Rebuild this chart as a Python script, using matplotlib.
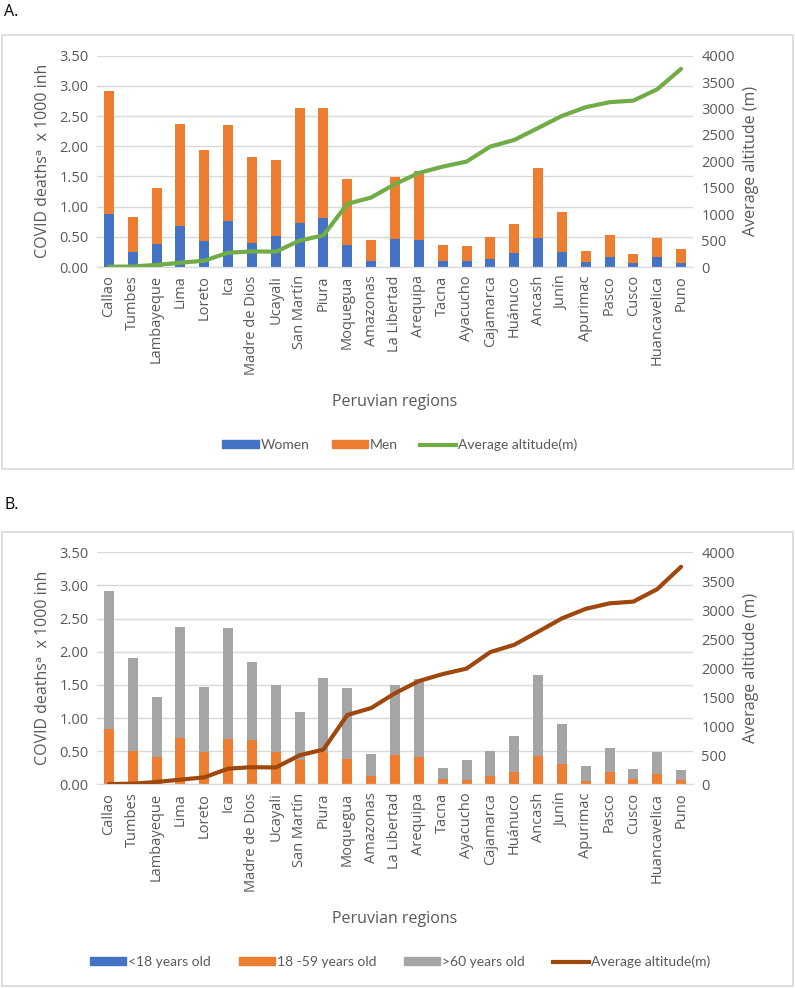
import matplotlib
matplotlib.use("Agg")
import matplotlib.pyplot as plt
from matplotlib.patches import Rectangle, Patch
from matplotlib.lines import Line2D

regions = ["Callao", "Tumbes", "Lambayeque", "Lima", "Loreto", "Ica", "Madre de Dios",
           "Ucayali", "San Martín", "Piura", "Moquegua", "Amazonas", "La Libertad",
           "Arequipa", "Tacna", "Ayacucho", "Cajamarca", "Huánuco", "Ancash", "Junín",
           "Apurimac", "Pasco", "Cusco", "Huancavelica", "Puno"]

altitude = [5, 10, 40, 80, 120, 270, 295, 290, 500, 600, 1195, 1315, 1570, 1780, 1900,
            1995, 2280, 2405, 2630, 2860, 3025, 3120, 3150, 3365, 3750]

# Panel A: totals by sex
women = [0.87, 0.25, 0.38, 0.68, 0.43, 0.77, 0.40, 0.51, 0.73, 0.81, 0.36, 0.10, 0.46,
         0.45, 0.10, 0.10, 0.13, 0.23, 0.48, 0.25, 0.09, 0.17, 0.06, 0.17, 0.07]
total_a = [2.92, 0.82, 1.31, 2.37, 1.93, 2.35, 1.83, 1.78, 2.63, 2.64, 1.45, 0.44, 1.49,
           1.59, 0.36, 0.35, 0.49, 0.72, 1.64, 0.91, 0.26, 0.53, 0.22, 0.48, 0.30]
men = [round(t - w, 2) for t, w in zip(total_a, women)]

# Panel B: by age group
under18 = [0.0] * 25
adults = [0.84, 0.50, 0.41, 0.70, 0.49, 0.69, 0.67, 0.49, 0.36, 0.48, 0.38, 0.13, 0.44,
          0.41, 0.085, 0.065, 0.13, 0.18, 0.43, 0.31, 0.05, 0.18, 0.075, 0.15, 0.07]
total_b = [2.92, 1.90, 1.32, 2.37, 1.47, 2.36, 1.84, 1.50, 1.09, 1.60, 1.46, 0.46, 1.50,
           1.59, 0.25, 0.36, 0.50, 0.73, 1.65, 0.91, 0.28, 0.55, 0.23, 0.49, 0.22]
over60 = [round(t - a - u, 3) for t, a, u in zip(total_b, adults, under18)]

yticks = [0.0, 0.5, 1.0, 1.5, 2.0, 2.5, 3.0, 3.5]
y2ticks = [0, 500, 1000, 1500, 2000, 2500, 3000, 3500, 4000]

BLUE, ORANGE, GRAY = "#4472c4", "#ed7d31", "#a5a5a5"
GREEN, BROWN = "#70ad47", "#9e480e"
TXT = "#595959"
GRID = "#d9d9d9"
FONT = ["Open Sans", "DejaVu Sans"]

W, H = 795, 988
fig = plt.figure(figsize=(W / 100, H / 100), dpi=100)


def px_axes(x0, ytop, x1, ybot):
    return fig.add_axes([x0 / W, 1 - ybot / H, (x1 - x0) / W, (ybot - ytop) / H])


def style(ax, ax2):
    ax.set_xlim(-0.5, len(regions) - 0.5)
    ax.set_ylim(0, 3.5)
    ax2.set_ylim(0, 4000)
    ax.set_yticks(yticks)
    ax.set_yticklabels([f"{v:.2f}" for v in yticks], fontsize=10.5, color=TXT, family=FONT)
    ax2.set_yticks(y2ticks)
    ax2.set_yticklabels([str(v) for v in y2ticks], fontsize=10.5, color=TXT, family=FONT)
    ax.set_xticks(range(len(regions)))
    ax.set_xticklabels(regions, rotation=90, fontsize=10.5, color=TXT, family=FONT)
    ax.tick_params(axis="both", length=0, pad=6)
    ax2.tick_params(axis="both", length=0, pad=6)
    ax.grid(axis="y", color=GRID, lw=1)
    ax.set_axisbelow(True)
    for a in (ax, ax2):
        for s in ["top", "left", "right"]:
            a.spines[s].set_visible(False)
        a.spines["bottom"].set_color(GRID)
    ax.set_ylabel("COVID deathsᵃ  x 1000 inh", fontsize=11.5, color=TXT, family=FONT, labelpad=6)
    ax2.set_ylabel("Average altitude (m)", fontsize=11.5, color=TXT, family=FONT, labelpad=6)
    ax.set_xlabel("Peruvian regions", fontsize=11.5, color=TXT, family=FONT, labelpad=14)


x = list(range(len(regions)))
bw = 0.42

# Frames
fig.add_artist(Rectangle((2 / W, 1 - 469 / H), 791 / W, 434 / H, transform=fig.transFigure,
                         fill=False, ec=GRID, lw=1.2))
fig.add_artist(Rectangle((2 / W, 1 - 986 / H), 791 / W, 454 / H, transform=fig.transFigure,
                         fill=False, ec=GRID, lw=1.2))
fig.text(4 / W, 1 - 12 / H, "A.", fontsize=11.5, family=FONT, va="center", ha="left", color="black")
fig.text(4 / W, 1 - 505 / H, "B.", fontsize=11.5, family=FONT, va="center", ha="left", color="black")

# Panel A
axA = px_axes(97, 55.7, 693, 267)
axA2 = axA.twinx()
axA.bar(x, women, bw, color=BLUE, zorder=2)
axA.bar(x, men, bw, bottom=women, color=ORANGE, zorder=2)
axA2.plot(x, altitude, color=GREEN, lw=3, solid_capstyle="round", zorder=3)
style(axA, axA2)

hA = [Patch(color=BLUE), Patch(color=ORANGE), Line2D([], [], color=GREEN, lw=3)]
fig.legend(hA, ["Women", "Men", "Average altitude(m)"], loc="center",
           bbox_to_anchor=(400 / W, 1 - 445 / H), ncol=3, frameon=False,
           prop={"family": "Lato", "size": 10}, labelcolor=TXT, handlelength=2.6,
           handleheight=0.5, columnspacing=1.6, handletextpad=0.15)

# Panel B
axB = px_axes(97, 552.3, 693, 784.3)
axB2 = axB.twinx()
axB.bar(x, under18, bw, color=BLUE, zorder=2)
axB.bar(x, adults, bw, bottom=under18, color=ORANGE, zorder=2)
axB.bar(x, over60, bw, bottom=[u + a for u, a in zip(under18, adults)], color=GRAY, zorder=2)
axB2.plot(x, altitude, color=BROWN, lw=3, solid_capstyle="round", zorder=3)
style(axB, axB2)

hB = [Patch(color=BLUE), Patch(color=ORANGE), Patch(color=GRAY), Line2D([], [], color=BROWN, lw=3)]
fig.legend(hB, ["<18 years old", "18 -59 years old", ">60 years old", "Average altitude(m)"],
           loc="center", bbox_to_anchor=(400 / W, 1 - 962 / H), ncol=4, frameon=False,
           prop={"family": "Lato", "size": 10}, labelcolor=TXT, handlelength=2.6,
           handleheight=0.5, columnspacing=2.0, handletextpad=0.15)

fig.savefig("out.png", dpi=100)
